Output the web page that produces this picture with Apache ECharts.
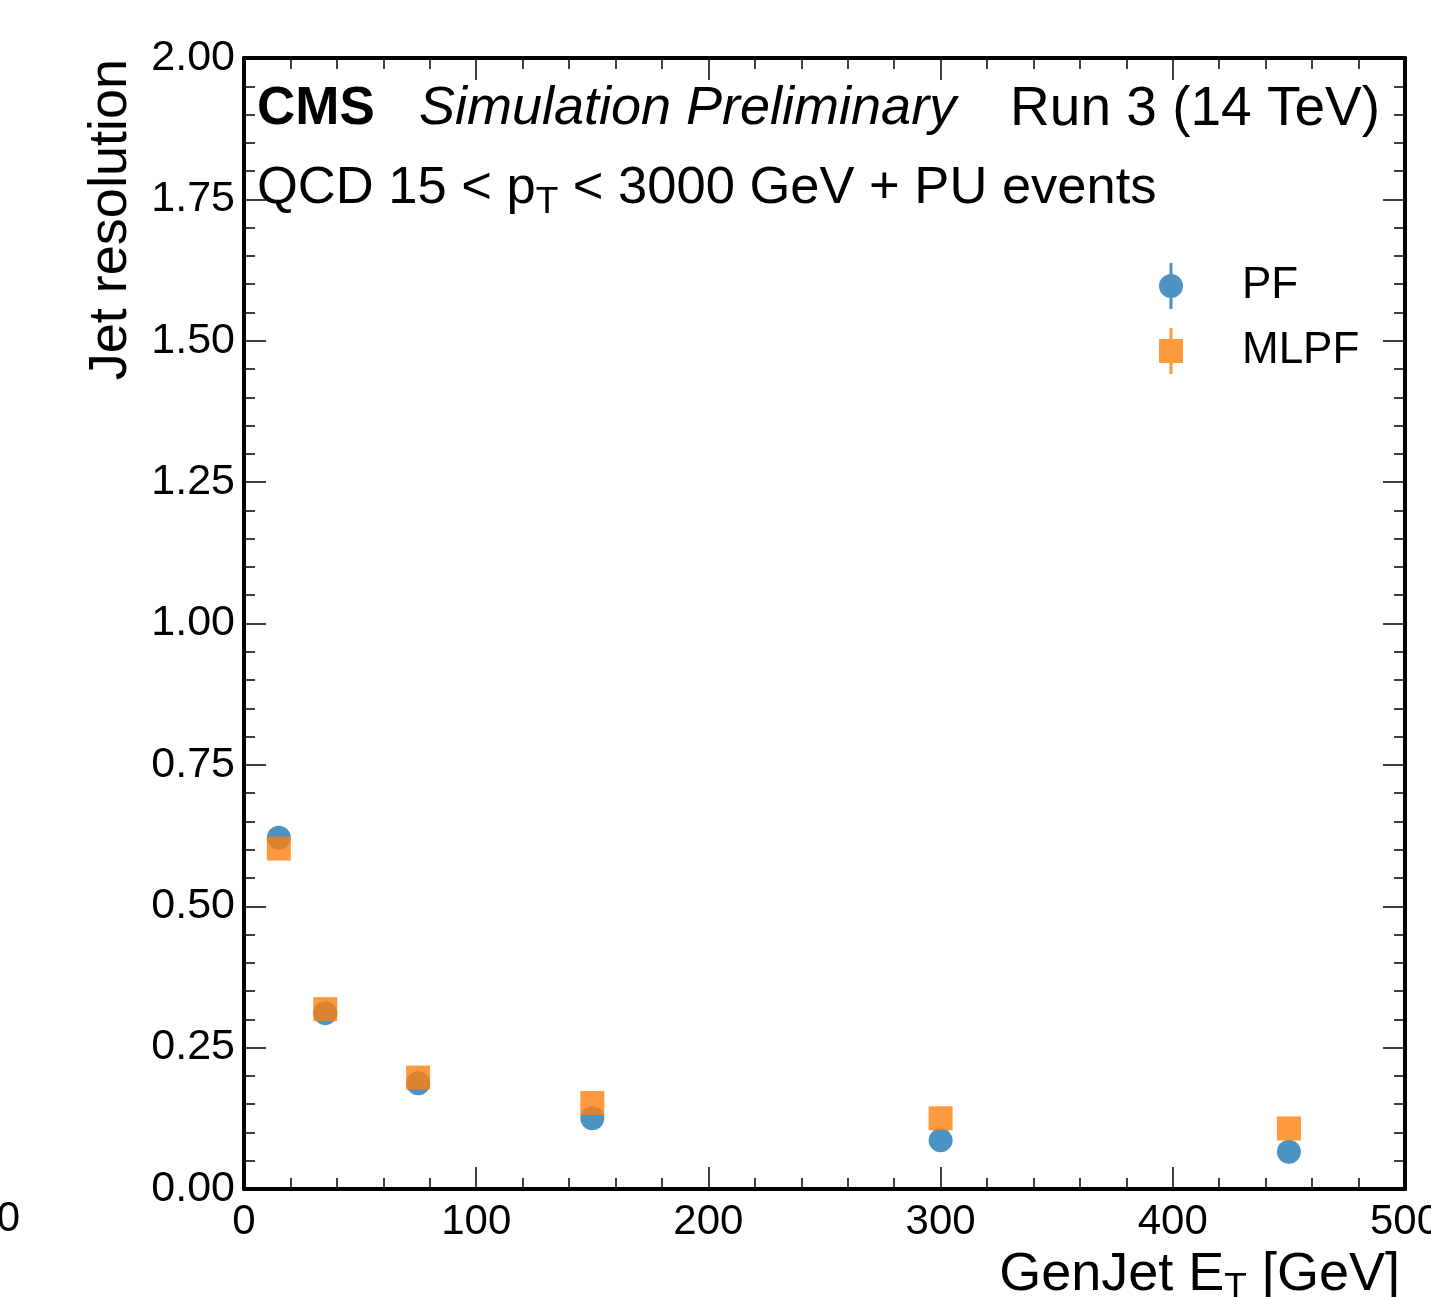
<!DOCTYPE html>
<html>
<head>
<meta charset="utf-8">
<script src="https://cdn.jsdelivr.net/npm/echarts@6/dist/echarts.min.js"></script>
<style>
  html, body { margin: 0; padding: 0; background: #fff; }
  #main { width: 1431px; height: 1297px; }
</style>
</head>
<body>
<div id="main"></div>
<script>
var genJetEt = [15, 35, 75, 150, 300, 450];
var pfRes = [0.621, 0.311, 0.187, 0.125, 0.086, 0.066];
var mlpfRes = [0.602, 0.318, 0.197, 0.152, 0.125, 0.107];
var seriesNames = ['PF', 'MLPF'];

var FONT = '"Liberation Sans", Arial, Helvetica, sans-serif';

function pairs(xs, ys) {
    return xs.map(function (x, i) { return [x, ys[i]]; });
}

var frameAxis = {
    axisLine: {show: true, onZero: false, lineStyle: {color: '#000', width: 4}},
    axisTick: {show: true, inside: true, length: 22, lineStyle: {color: '#000', width: 1.5}},
    minorTick: {show: true, splitNumber: 5, length: 11, lineStyle: {color: '#000', width: 1.5}},
    splitLine: {show: false},
    minorSplitLine: {show: false}
};

function xAx(extra) {
    return Object.assign({type: 'value', min: 0, max: 500, interval: 100}, frameAxis, extra);
}
function yAx(extra) {
    return Object.assign({type: 'value', min: 0, max: 2, interval: 0.25}, frameAxis, extra);
}

var chart = echarts.init(document.getElementById('main'), null, {renderer: 'canvas'});

var option = {
    backgroundColor: '#fff',
    animation: false,
    grid: {left: 244, right: 26, top: 58, bottom: 108, containLabel: false, outerBoundsMode: 'none'},
    xAxis: [
        xAx({
            position: 'bottom',
            axisLabel: {show: true, color: '#000', fontSize: 42, fontFamily: FONT, margin: 12,
                showMinLabel: true, showMaxLabel: true, hideOverlap: false}
        }),
        xAx({position: 'top', axisLabel: {show: false}})
    ],
    yAxis: [
        yAx({
            position: 'left',
            axisLabel: {show: true, color: '#000', fontSize: 43, fontFamily: FONT, margin: 9,
                showMinLabel: true, showMaxLabel: true,
                formatter: function (v) { return v.toFixed(2); }}
        }),
        yAx({position: 'right', axisLabel: {show: false}})
    ],
    legend: {
        orient: 'vertical',
        left: 1159,
        top: 263,
        padding: 0,
        itemWidth: 24,
        itemHeight: 46,
        itemGap: 19,
        data: [
            {name: 'PF', icon: 'path://M10.5,0H13.5V46H10.5Z M0,23A12,12 0 1,1 24,23A12,12 0 1,1 0,23Z'},
            {name: 'MLPF', icon: 'path://M10.5,0H13.5V46H10.5Z M0,11H24V35H0Z'}
        ],
        textStyle: {color: '#000', fontSize: 44, fontFamily: FONT, padding: [0, 0, 0, 54]}
    },
    series: [
        {
            name: seriesNames[0],
            type: 'scatter',
            xAxisIndex: 0,
            yAxisIndex: 0,
            symbol: 'circle',
            symbolSize: 24,
            itemStyle: {color: '#1f77b4', opacity: 0.8},
            data: pairs(genJetEt, pfRes)
        },
        {
            name: seriesNames[1],
            type: 'scatter',
            xAxisIndex: 0,
            yAxisIndex: 0,
            symbol: 'rect',
            symbolSize: 24,
            itemStyle: {color: '#ff7f0e', opacity: 0.8},
            data: pairs(genJetEt, mlpfRes)
        }
    ],
    graphic: [
        {
            type: 'text', left: 257, top: 82, z: 100,
            style: {
                text: '{b|CMS}   {i|Simulation Preliminary}',
                fill: '#000',
                rich: {
                    b: {fontSize: 53, fontWeight: 'bold', fontFamily: FONT, fill: '#000'},
                    i: {fontSize: 54, fontStyle: 'italic', fontFamily: FONT, fill: '#000'}
                },
                fontSize: 53, fontFamily: FONT
            }
        },
        {
            type: 'text', right: 51, top: 82, z: 100,
            style: {text: 'Run 3 (14 TeV)', fontSize: 55, fontFamily: FONT, fill: '#000'}
        },
        {
            type: 'text', left: 257, top: 162, z: 100,
            style: {
                text: 'QCD 15 < p{sub|T} < 3000 GeV + PU events',
                fontSize: 52.5, fontFamily: FONT, fill: '#000',
                rich: {
                    sub: {fontSize: 37, fontFamily: FONT, fill: '#000', padding: [28, 0, 0, 0]}
                }
            }
        },
        {
            type: 'text', x: 111, y: 59, rotation: Math.PI / 2, z: 100,
            style: {text: 'Jet resolution', fontSize: 54, fontFamily: FONT, fill: '#000',
                align: 'right', verticalAlign: 'middle'}
        },
        {
            type: 'text', right: 31, top: 1248, z: 100,
            style: {
                text: 'GenJet E{sub|T} [GeV]',
                fontSize: 54, fontFamily: FONT, fill: '#000',
                rich: {
                    sub: {fontSize: 37, fontFamily: FONT, fill: '#000', padding: [28, 0, 0, 0]}
                }
            }
        },
        {
            type: 'text', x: 20, y: 1219, z: 100,
            style: {text: '0', fontSize: 42, fontFamily: FONT, fill: '#000',
                align: 'right', verticalAlign: 'middle'}
        }
    ]
};

chart.setOption(option);
</script>
</body>
</html>
